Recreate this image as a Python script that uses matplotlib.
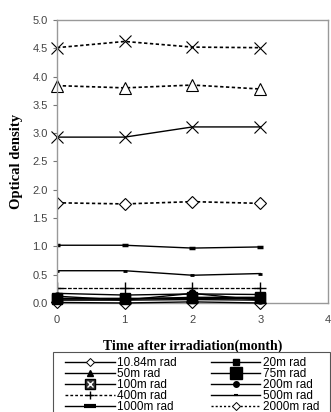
import numpy as np
import matplotlib.pyplot as plt
from matplotlib.lines import Line2D
from matplotlib.legend_handler import HandlerTuple

months = [0, 1, 2, 3]

# series named in the legend
d10 = [0.01, 0.0, 0.02, 0.0]
d20 = [0.05, 0.05, 0.06, 0.05]
d50 = [0.08, 0.08, 0.08, 0.08]
d75 = [0.07, 0.07, 0.10, 0.10]
d100 = [0.09, 0.09, 0.09, 0.09]
d200 = [0.12, 0.05, 0.17, 0.05]
d400 = [0.27, 0.27, 0.27, 0.27]
d500 = [0.57, 0.57, 0.49, 0.52]
d1000 = [1.02, 1.02, 0.97, 0.99]
d2000 = [1.77, 1.75, 1.79, 1.76]
d_low = [0.17, 0.14, 0.16, 0.15]

# series whose legend rows fall below the cut-off
x_solid = [2.93, 2.93, 3.11, 3.11]
tri_dot = [3.84, 3.80, 3.85, 3.78]
x_dot = [4.51, 4.62, 4.52, 4.51]

labels = ['10.84m rad', '20m rad', '50m rad', '75m rad', '100m rad',
          '200m rad', '400m rad', '500m rad', '1000m rad', '2000m rad']

plt.rcParams['font.family'] = ['Liberation Sans', 'DejaVu Sans']

fig = plt.figure(figsize=(3.31, 4.12), dpi=100)
ax = fig.add_axes([0.172, 0.2646, 0.819, 0.687])

k = 'black'
dot = (0, (2, 1.5))
ax.plot(months, d_low, '-', color=k, lw=1)
ax.plot(months, d10, '-', color=k, lw=1, marker='D', ms=6, mfc='white', mec=k, mew=0.8,
        clip_on=False, zorder=3)
ax.plot(months, d20, '-', color=k, lw=1, marker='s', ms=5, clip_on=False, zorder=5)
ax.plot(months, d50, '-', color=k, lw=1, marker='^', ms=6, clip_on=False, zorder=5)
ax.plot(months, d75, '-', color=k, lw=1, marker='s', ms=7, clip_on=False, zorder=5)
ax.plot(months, d100, '-', color=k, lw=1, marker='s', ms=7, clip_on=False, zorder=5)
ax.plot(months, d200, '-', color=k, lw=1, marker='o', ms=5, clip_on=False, zorder=5)
ax.plot(months, d400, linestyle=(0, (3, 1.2)), color=k, lw=0.9, marker='+', ms=9, mew=1)
ax.plot(months, d500, '-', color=k, lw=1, marker='_', ms=3, mew=2)
ax.plot(months, d1000, '-', color=k, lw=1, marker='_', ms=4, mew=2.5)
ax.plot(months, d2000, linestyle=dot, color=k, lw=1.2, marker='D', ms=6.5,
        mfc='white', mec=k, mew=0.8)

ax.plot(months, x_solid, '-', color=k, lw=1, marker='x', ms=8, mew=0.8, clip_on=False)
ax.plot(months, tri_dot, linestyle=dot, color=k, lw=1.2, marker='^', ms=8,
        mfc='white', mec=k, mew=0.8, clip_on=False)
ax.plot(months, x_dot, linestyle=dot, color=k, lw=1.2, marker='x', ms=8,
        mew=0.8, clip_on=False)

ax.set_xlim(0, 4)
ax.set_ylim(0, 5)
ax.set_xticks([0, 1, 2, 3, 4])
ax.set_yticks(np.arange(0, 5.01, 0.5))
ax.yaxis.set_major_formatter(plt.FormatStrFormatter('%.1f'))
ax.tick_params(axis='both', labelsize=8, colors='#777777', labelcolor='#444444',
               length=3, width=0.8)
ax.tick_params(axis='x', length=0, pad=9)
for s in ax.spines.values():
    s.set_color('#999999')
    s.set_linewidth(1)

ax.set_xlabel('Time after irradiation(month)', fontfamily='Liberation Serif',
              fontweight='bold', fontsize=10, labelpad=10)
ax.set_ylabel('Optical density', fontfamily='Liberation Serif', fontweight='bold',
              fontsize=10.5, labelpad=7)

# legend handles (drawn separately so the key marks match the reference)
def key(ls='-', color=k, **kw):
    return Line2D([], [], color=color, lw=1, linestyle=ls, **kw)

handles = [
    key(marker='D', ms=4, mfc='white', mec=k, mew=0.7),
    key(marker='s', ms=4.5),
    key(marker='^', ms=5),
    key(marker='s', ms=8),
    (key(marker='s', ms=7, mfc='#333333'), key(ls='none', marker='x', ms=5, color='white', mew=1)),
    key(marker='o', ms=4),
    key(ls=(0, (2, 1.5)), marker='+', ms=6, mew=1),
    key(marker='_', ms=3, mew=1.5),
    key(marker='_', ms=8, mew=3),
    key(ls=(0, (1.5, 1.5)), marker='D', ms=4.5, mfc='white', mec=k, mew=0.7),
]
order = [0, 2, 4, 6, 8, 1, 3, 5, 7, 9]
leg = fig.legend([handles[i] for i in order], [labels[i] for i in order], ncol=2,
                 loc='upper left', bbox_to_anchor=(65 / 331, 1 - 357 / 412),
                 fontsize=8.5, frameon=False, borderpad=0, borderaxespad=0,
                 labelspacing=-0.09, handlelength=4.2, handletextpad=0.2,
                 columnspacing=2.9, handler_map={tuple: HandlerTuple(ndivide=1)})

# legend box runs past the bottom edge of the picture
fig.add_artist(plt.Rectangle((53 / 331, -0.05), 277 / 331, 0.05 + 1 - 352 / 412,
                             transform=fig.transFigure, fill=False, ec='#555555', lw=0.8))

fig.savefig('out.png', dpi=100)
